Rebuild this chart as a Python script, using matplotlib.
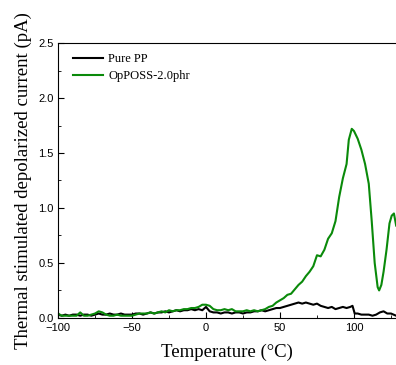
import matplotlib.pyplot as plt
from matplotlib.ticker import MultipleLocator

# temperature (C) and current (pA)
temp_pp = [-100, -97.5, -95, -92.5, -90, -87.5, -85, -82.5, -80, -77.5, -75, -72.5, -70, -67.5,
           -65, -62.5, -60, -57.5, -55, -52.5, -50, -47.5, -45, -42.5, -40, -37.5, -35, -32.5,
           -30, -27.5, -25, -22.5, -20, -17.5, -15, -12.5, -10, -7.5, -5, -2.5, 0, 2.5, 5, 7.5,
           10, 12.5, 15, 17.5, 20, 22.5, 25, 27.5, 30, 32.5, 35, 37.5, 40, 42.5, 45, 47.5, 50,
           52.5, 55, 57.5, 60, 62.5, 65, 67.5, 70, 72.5, 75, 77.5, 80, 82.5, 85, 87.5, 90, 92.5,
           95, 97.5, 99, 100.5, 102.5, 105, 107.5, 110, 112.5, 115, 117.5, 120, 122.5, 125, 128.5]
cur_pp = [0.03, 0.02, 0.03, 0.02, 0.03, 0.03, 0.02, 0.03, 0.03, 0.02, 0.03, 0.04, 0.03, 0.03,
          0.04, 0.03, 0.03, 0.04, 0.03, 0.03, 0.03, 0.04, 0.04, 0.03, 0.04, 0.05, 0.04, 0.05,
          0.05, 0.06, 0.05, 0.06, 0.07, 0.06, 0.07, 0.07, 0.08, 0.07, 0.08, 0.07, 0.10, 0.06, 0.05, 0.05,
          0.04, 0.05, 0.05, 0.04, 0.05, 0.05, 0.04, 0.05, 0.05, 0.06, 0.06, 0.07, 0.06, 0.07, 0.08, 0.09, 0.09,
          0.10, 0.11, 0.12, 0.13, 0.14, 0.13, 0.14, 0.13, 0.12, 0.13, 0.11, 0.10, 0.09, 0.10, 0.08, 0.09, 0.10,
          0.09, 0.10, 0.11, 0.04, 0.04, 0.03, 0.03, 0.03, 0.02, 0.03, 0.05, 0.06, 0.04, 0.04, 0.02]

temp_oposs = [-100, -97.5, -95, -92.5, -90, -87.5, -85, -82.5, -80, -77.5, -75, -72.5, -70, -67.5,
              -65, -62.5, -60, -57.5, -55, -52.5, -50, -47.5, -45, -42.5, -40, -37.5, -35, -32.5,
              -30, -27.5, -25, -22.5, -20, -17.5, -15, -12.5, -10, -7.5, -5, -2.5, 0, 2.5, 5, 7.5,
              10, 12.5, 15, 17.5, 20, 22.5, 25, 27.5, 30, 32.5, 35, 37.5, 40, 42.5, 45, 47.5, 50,
              52.5, 55, 57.5, 60, 62.5, 65, 67.5, 70, 72.5, 75, 77.5, 80, 82.5, 85, 87.5, 90, 92.5,
              95, 96.5, 98.5, 100, 102.5, 105, 107.5, 110, 112, 114, 116, 117, 118.5, 120, 122, 124,
              125.5, 127, 128.5]
cur_oposs = [0.04, 0.02, 0.02, 0.02, 0.02, 0.02, 0.05, 0.02, 0.02, 0.03, 0.04, 0.06, 0.05, 0.03,
             0.02, 0.02, 0.03, 0.02, 0.02, 0.02, 0.02, 0.03, 0.04, 0.04, 0.04, 0.05, 0.04, 0.05,
             0.06, 0.05, 0.07, 0.06, 0.07, 0.07, 0.08, 0.08, 0.09, 0.09, 0.10, 0.12, 0.12, 0.11, 0.08, 0.07,
             0.07, 0.08, 0.07, 0.08, 0.06, 0.06, 0.06, 0.07, 0.06, 0.07, 0.06, 0.07, 0.08, 0.10, 0.11, 0.14, 0.16,
             0.18, 0.21, 0.22, 0.26, 0.30, 0.33, 0.38, 0.42, 0.47, 0.57, 0.56, 0.62, 0.72, 0.77, 0.88, 1.10, 1.27,
             1.40, 1.62, 1.72, 1.70, 1.63, 1.53, 1.40, 1.22, 0.88, 0.50, 0.28, 0.25, 0.30, 0.42, 0.62, 0.86,
             0.93, 0.95, 0.84]

fig = plt.figure(figsize=(3.96, 3.65), dpi=100)
ax = fig.add_axes([0.1465, 0.129, 0.8535, 0.753])

ax.plot(temp_pp, cur_pp, color='black', lw=1.5, label='Pure PP')
ax.plot(temp_oposs, cur_oposs, color='#0a8a0a', lw=1.5, label='OpPOSS-2.0phr')

ax.set_xlim(-100, 128.4)
ax.set_ylim(0, 2.5)
ax.xaxis.set_major_locator(MultipleLocator(50))
ax.xaxis.set_minor_locator(MultipleLocator(25))
ax.yaxis.set_major_locator(MultipleLocator(0.5))
ax.yaxis.set_minor_locator(MultipleLocator(0.25))
ax.tick_params(which='both', direction='in', labelsize=8)
ax.tick_params(axis='x', pad=4)
ax.tick_params(axis='y', pad=3)
ax.tick_params(which='major', length=4)
ax.tick_params(which='minor', length=2.5)
for lab in ax.get_xticklabels() + ax.get_yticklabels():
    lab.set_family('Liberation Sans')
ax.spines['right'].set_visible(False)

ax.set_xlabel('Temperature (\u00b0C)', family='Liberation Serif', fontsize=13.5, labelpad=7)
ax.set_ylabel('Thermal stimulated depolarized current (pA)', family='Liberation Serif',
              fontsize=13.5, labelpad=5)

ax.legend(loc='upper left', bbox_to_anchor=(0.015, 1.0), frameon=False,
          prop={'family': 'Liberation Serif', 'size': 9},
          handlelength=2.4, handletextpad=0.4, labelspacing=0.4, borderaxespad=0.4)

fig.savefig('out.png', dpi=100)
